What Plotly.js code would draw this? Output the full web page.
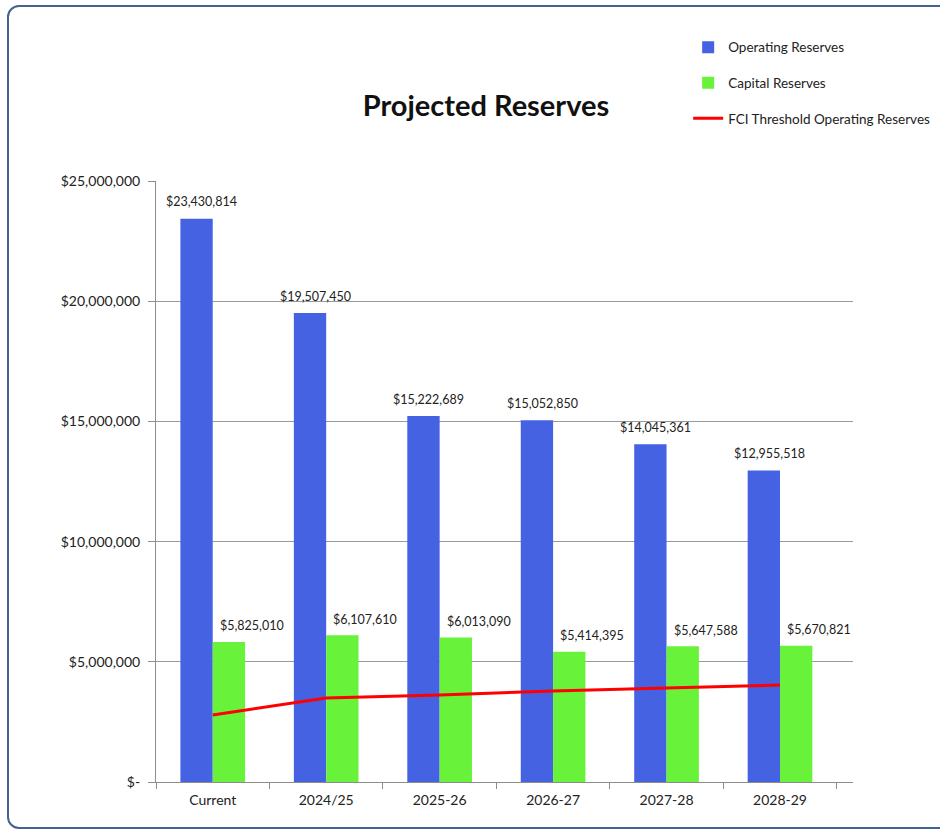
<!DOCTYPE html>
<html>
<head>
<meta charset="utf-8">
<script src="https://cdn.plot.ly/plotly-3.0.1.min.js"></script>
<style>
  html, body { margin: 0; padding: 0; background: #ffffff; }
  #wrap { position: relative; width: 940px; height: 830px; overflow: hidden; }
  #chart { width: 940px; height: 830px; }
  #frame { position: absolute; left: 7px; top: 5px; width: 960px; height: 820px;
           border: 2px solid #44638f; border-radius: 12px; pointer-events: none; }
</style>
</head>
<body>
<div id="wrap">
  <div id="chart"></div>
  <div id="frame"></div>
</div>
<script>
const categories = ["Current", "2024/25", "2025-26", "2026-27", "2027-28", "2028-29"];
const operatingReserves = [23430814, 19507450, 15222689, 15052850, 14045361, 12955518];
const capitalReserves = [5825010, 6107610, 6013090, 5414395, 5647588, 5670821];
const fciThreshold = [2790000, 3490000, 3620000, 3790000, 3910000, 4030000];
const yTickVals = [0, 5000000, 10000000, 15000000, 20000000, 25000000];
const yTickLabels = ["$-", "$5,000,000", "$10,000,000", "$15,000,000", "$20,000,000", "$25,000,000"];

const FONT = "Lato, 'Open Sans', sans-serif";
const fmt = v => "$" + v.toLocaleString("en-US");

const traces = [
  { type: "bar", name: "Operating Reserves", x: categories, y: operatingReserves,
    marker: { color: "#4562e3" }, legendgroup: "a", hoverinfo: "y" },
  { type: "bar", name: "Capital Reserves", x: categories, y: capitalReserves,
    marker: { color: "#68f23a" }, legendgroup: "b", hoverinfo: "y" },
  { type: "scatter", mode: "lines", name: "FCI Threshold Operating Reserves",
    x: categories, y: fciThreshold, line: { color: "#ff0000", width: 3 },
    legendgroup: "c", hoverinfo: "y" }
];

const annotations = [];
categories.forEach((c, i) => {
  annotations.push({ x: c, y: operatingReserves[i], xref: "x", yref: "y",
    text: fmt(operatingReserves[i]), showarrow: false, xshift: -11, yshift: 17,
    font: { family: FONT, size: 12.5, color: "#222" } });
  annotations.push({ x: c, y: capitalReserves[i], xref: "x", yref: "y",
    text: fmt(capitalReserves[i]), showarrow: false, xshift: 39, yshift: 16,
    font: { family: FONT, size: 12.5, color: "#222" } });
});

const layout = {
  width: 940, height: 830,
  margin: { l: 156, r: 87, t: 181, b: 48, pad: 0, autoexpand: false },
  paper_bgcolor: "#ffffff", plot_bgcolor: "#ffffff",
  font: { family: FONT, size: 14, color: "#333" },
  title: { text: "<b>Projected Reserves</b>", x: 0.517, xref: "container", xanchor: "center",
           y: 0.872, yref: "container", yanchor: "middle",
           font: { family: FONT, size: 29, color: "#111" } },
  barmode: "group", bargap: 0.43, bargroupgap: 0,
  showlegend: true,
  legend: { x: 0.7635, xanchor: "left", y: 1.248, yanchor: "top",
            font: { family: FONT, size: 13.5, color: "#222" },
            bgcolor: "rgba(0,0,0,0)", tracegroupgap: 15, traceorder: "grouped" },
  xaxis: { type: "category", showline: true, linecolor: "#8c8c8c", linewidth: 1,
           ticks: "outside", tickson: "boundaries", ticklen: 6, tickcolor: "#8c8c8c",
           ticklabelstandoff: 5,
           showgrid: false, tickfont: { family: FONT, size: 14, color: "#222" } },
  yaxis: { range: [0, 25000000], tickvals: yTickVals, ticktext: yTickLabels,
           showline: true, linecolor: "#8c8c8c", linewidth: 1,
           ticks: "outside", ticklen: 7, tickcolor: "#8c8c8c",
           ticklabelstandoff: 5,
           showgrid: true, gridcolor: "#9a9a9a", gridwidth: 1, zeroline: false,
           tickfont: { family: FONT, size: 14, color: "#222" } },
  annotations: annotations
};

Plotly.newPlot("chart", traces, layout, { displayModeBar: false, staticPlot: true });
</script>
</body>
</html>
